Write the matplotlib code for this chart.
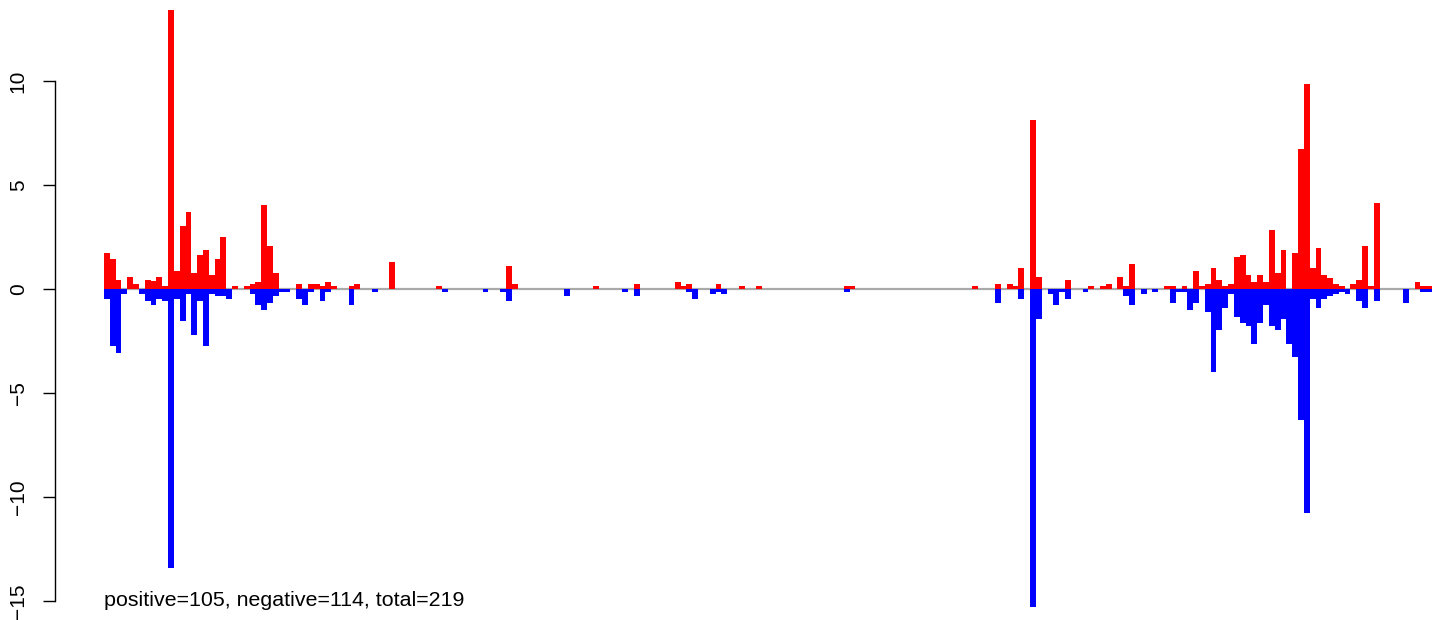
import matplotlib
matplotlib.use("Agg")
import matplotlib.pyplot as plt
import numpy as np

plt.rcParams['font.family'] = ['Liberation Sans', 'DejaVu Sans']
plt.rcParams['axes.unicode_minus'] = True

n_bars = 228

# positive (red) values: index -> value
pos_values = {
    0: 1.75, 1: 1.44, 2: 0.43, 4: 0.58, 5: 0.24, 7: 0.43, 8: 0.37, 9: 0.58,
    10: 0.14, 11: 13.4, 12: 0.87, 13: 3.03, 14: 3.70, 15: 0.77, 16: 1.63,
    17: 1.88, 18: 0.67, 19: 1.44, 20: 2.5, 22: 0.14, 24: 0.14, 25: 0.24,
    26: 0.34, 27: 4.04, 28: 2.07, 29: 0.77, 33: 0.24, 35: 0.24, 36: 0.24,
    37: 0.14, 38: 0.34, 39: 0.14, 42: 0.14, 43: 0.24, 49: 1.3, 57: 0.14,
    69: 1.1, 70: 0.24, 84: 0.14, 91: 0.24, 98: 0.34, 99: 0.14, 100: 0.24,
    105: 0.24, 109: 0.14, 112: 0.14, 127: 0.14, 128: 0.14, 149: 0.14,
    153: 0.24, 155: 0.24, 156: 0.14, 157: 1.0, 159: 8.12, 160: 0.58,
    165: 0.43, 169: 0.14, 171: 0.14, 172: 0.24, 174: 0.58, 175: 0.14,
    176: 1.2, 182: 0.14, 183: 0.14, 185: 0.14, 187: 0.87, 188: 0.14,
    189: 0.24, 190: 1.0, 191: 0.43, 192: 0.14, 193: 0.24, 194: 1.54,
    195: 1.63, 196: 0.67, 197: 0.34, 198: 0.67, 199: 0.34, 200: 2.84,
    201: 0.79, 202: 1.88, 204: 1.73, 205: 6.73, 206: 9.86, 207: 1.01,
    208: 1.97, 209: 0.67, 210: 0.53, 211: 0.24, 212: 0.14, 214: 0.24,
    215: 0.43, 216: 2.07, 217: 0.14, 218: 4.13, 225: 0.34, 226: 0.14,
    227: 0.14,
}

# negative (blue) values: index -> value
neg_values = {
    0: -0.46, 1: -2.72, 2: -3.06, 3: -0.22, 6: -0.22, 7: -0.56, 8: -0.75,
    9: -0.48, 10: -0.56, 11: -13.4, 12: -0.46, 13: -1.52, 14: -0.22,
    15: -2.2, 16: -0.56, 17: -2.72, 18: -0.22, 19: -0.32, 20: -0.32,
    21: -0.46, 25: -0.22, 26: -0.75, 27: -1.0, 28: -0.66, 29: -0.32,
    30: -0.13, 31: -0.13, 33: -0.46, 34: -0.75, 35: -0.13, 37: -0.56,
    38: -0.13, 42: -0.75, 46: -0.13, 58: -0.13, 65: -0.13, 68: -0.13,
    69: -0.56, 79: -0.32, 89: -0.13, 91: -0.32, 100: -0.13, 101: -0.46,
    104: -0.22, 105: -0.13, 106: -0.22, 127: -0.13, 153: -0.66,
    157: -0.46, 159: -15.3, 160: -1.43, 162: -0.22, 163: -0.75,
    164: -0.13, 165: -0.46, 168: -0.13, 175: -0.32, 176: -0.75,
    178: -0.22, 180: -0.13, 183: -0.66, 184: -0.13, 185: -0.13,
    186: -1.0, 187: -0.66, 189: -1.09, 190: -4.0, 191: -1.96, 192: -0.9,
    193: -0.22, 194: -1.33, 195: -1.62, 196: -1.76, 197: -2.63,
    198: -1.62, 199: -0.75, 200: -1.76, 201: -1.96, 202: -1.43,
    203: -2.63, 204: -3.25, 205: -6.28, 206: -10.75, 207: -0.46,
    208: -0.9, 209: -0.46, 210: -0.32, 211: -0.22, 212: -0.13,
    213: -0.22, 215: -0.56, 216: -0.9, 218: -0.56, 223: -0.66,
    226: -0.13, 227: -0.13,
}

y_ticks = [-15, -10, -5, 0, 5, 10]
label_text = "positive=105, negative=114, total=219"

positive = np.zeros(n_bars)
negative = np.zeros(n_bars)
for k, v in pos_values.items():
    positive[k] = v
for k, v in neg_values.items():
    negative[k] = v
x = np.arange(n_bars)

W, H = 1449, 620
fig = plt.figure(figsize=(W / 100, H / 100), dpi=100)
left_px, right_px = 104, 1432
top_px, bot_px = 5, 610
ax = fig.add_axes([left_px / W, 1 - bot_px / H,
                   (right_px - left_px) / W, (bot_px - top_px) / H])

ppu = 20.8
zero_px = 289
ax.set_ylim(-(bot_px - zero_px) / ppu, (zero_px - top_px) / ppu)
ax.set_xlim(0, n_bars)

ax.axhline(0, color='#a9a9a9', lw=1.6, zorder=1)
ax.bar(x, positive, width=1.0, align='edge', color='#ff0000',
       linewidth=0, zorder=2)
ax.bar(x, negative, width=1.0, align='edge', color='#0000ff',
       linewidth=0, zorder=2)

for s in ['top', 'right', 'bottom']:
    ax.spines[s].set_visible(False)
ax.spines['left'].set_position(('outward', (left_px - 55) * 0.72))
ax.spines['left'].set_bounds(-15, 10)
ax.spines['left'].set_linewidth(1.0)
ax.set_xticks([])
ax.set_yticks(y_ticks)
ax.set_yticklabels([str(t).replace('-', '\u2212') for t in y_ticks],
                   rotation=90, va='center', fontsize=15)
ax.tick_params(axis='y', length=12 * 0.72, width=1.0, pad=11)

ax.text(0, -15, label_text, ha='left', va='center', fontsize=15.4)

fig.savefig('out.png', dpi=100)
